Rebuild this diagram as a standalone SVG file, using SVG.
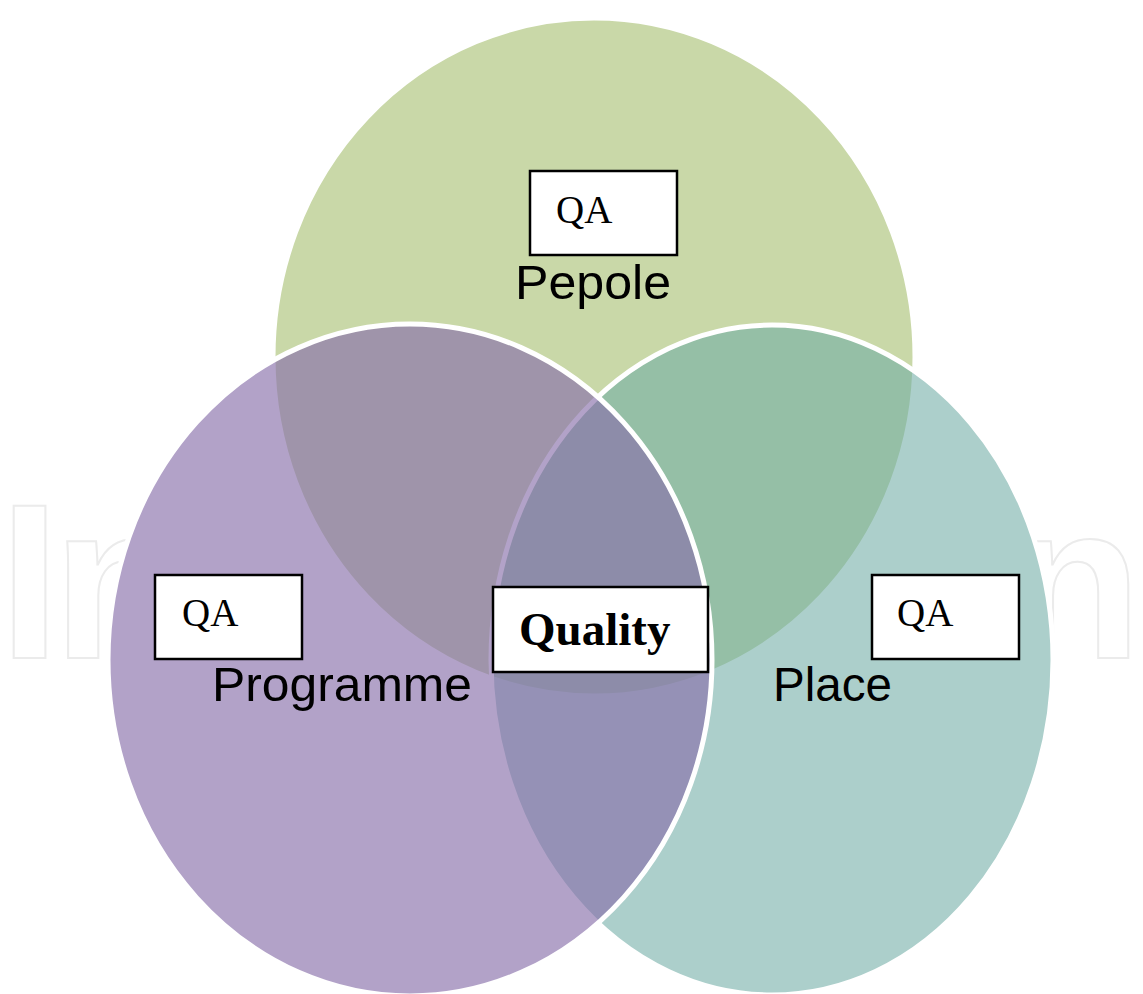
<svg xmlns="http://www.w3.org/2000/svg" width="1143" height="994" viewBox="0 0 1143 994">
<style>
.wm{font-family:"Liberation Sans",Arial,sans-serif;font-weight:bold;font-size:220px;fill:none;stroke:#ebebeb;stroke-width:2}
.under{fill:#ffffff;stroke:none}
.circ{stroke:#ffffff;stroke-width:5}
.box{fill:#ffffff;stroke:#000000;stroke-width:2.5}
.qa{font-family:"Liberation Serif","Times New Roman",serif;font-size:39px;fill:#000000}
.ql{font-family:"Liberation Serif","Times New Roman",serif;font-size:47px;font-weight:bold;fill:#000000}
.lbl{font-family:"Liberation Sans",Arial,sans-serif;font-size:48px;fill:#000000}
</style>
<defs>
<ellipse id="e-people" cx="594" cy="357" rx="321" ry="339"/>
<ellipse id="e-place" cx="772" cy="660" rx="281" ry="335"/>
<ellipse id="e-programme" cx="410" cy="660" rx="302" ry="336"/>
</defs>
<rect x="0" y="0" width="1143" height="994" fill="#ffffff"/>
<text class="wm" x="-1" y="658" textLength="1143" lengthAdjust="spacing">IntechOpen</text>
<g id="underlay">
<use href="#e-place" class="under"/>
<use href="#e-programme" class="under"/>
</g>
<g id="people-circle"><use href="#e-people" class="circ" fill="#c9d8a8"/></g>
<g id="place-circle"><use href="#e-place" class="circ" fill="#70aca5" fill-opacity="0.58"/></g>
<g id="programme-circle"><use href="#e-programme" class="circ" fill="#8970aa" fill-opacity="0.65"/></g>
<g id="connectors"></g>
<g id="people">
<rect class="box" x="530" y="171" width="147" height="84"/>
<text class="qa" x="556" y="223">QA</text>
<text class="lbl" x="515" y="299" textLength="156" lengthAdjust="spacingAndGlyphs">Pepole</text>
</g>
<g id="programme">
<rect class="box" x="155" y="575" width="147" height="84"/>
<text class="qa" x="182" y="626">QA</text>
<text class="lbl" x="212" y="701" textLength="260" lengthAdjust="spacingAndGlyphs">Programme</text>
</g>
<g id="place">
<rect class="box" x="872" y="575" width="147" height="84"/>
<text class="qa" x="897" y="626">QA</text>
<text class="lbl" x="773" y="701" textLength="119" lengthAdjust="spacingAndGlyphs">Place</text>
</g>
<g id="quality">
<rect class="box" x="493" y="587" width="215" height="85"/>
<text class="ql" x="519" y="645">Quality</text>
</g>
</svg>
